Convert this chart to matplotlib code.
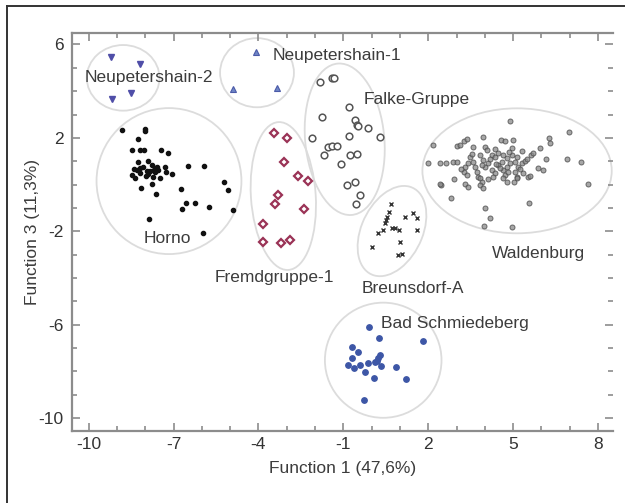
import matplotlib
matplotlib.use("Agg")
import matplotlib.pyplot as plt
from matplotlib.patches import Ellipse
from matplotlib.lines import Line2D
from matplotlib.ticker import MultipleLocator, FixedLocator

plt.rcParams['font.family'] = ['Liberation Sans', 'DejaVu Sans']

# ---------------- data ----------------
horno_x = [-8.81, -8.01, -8.01, -8.27, -8.46, -8.18, -8.03, -7.44, -7.18, -8.27, -7.89, -6.48, -5.92,
           -8.38, -8.30, -8.18, -8.07, -7.77, -7.65, -7.59, -7.54, -7.30, -7.27, -7.06, -8.48, -8.36,
           -8.18, -7.97, -7.89, -7.71, -7.48, -7.65, -7.83, -8.16, -7.75, -7.62, -6.75, -6.56, -6.71,
           -6.24, -5.74, -5.22, -5.06, -4.91, -7.86, -5.95, -7.70, -7.95]
horno_y = [2.34, 2.40, 2.30, 1.95, 1.49, 1.49, 1.49, 1.49, 1.37, 0.98, 1.02, 0.81, 0.80,
           0.66, 0.63, 0.70, 0.77, 0.84, 0.70, 0.77, 0.63, 0.77, 0.55, 0.45, 0.41, 0.27,
           0.48, 0.37, 0.44, 0.34, 0.27, 0.55, 0.58, -0.13, 0.01, -0.40, -0.19, -0.78, -1.05,
           -0.80, -0.95, 0.10, -0.23, -1.09, -1.49, -2.09, 0.62, 0.60]

waldenburg_x = [4.89, 6.99, 2.18, 3.01, 3.12, 3.28, 3.37, 3.95, 4.57, 5.01, 6.28, 6.30, 3.59, 4.01, 4.07,
                4.36, 4.95, 5.30, 5.95, 5.63, 5.71, 3.48, 3.83, 4.24, 4.36, 4.48, 4.65, 4.77, 4.95, 5.13,
                6.16, 6.89, 7.39, 2.00, 2.62, 2.89, 3.01, 3.30, 3.42, 3.59, 3.65, 3.95, 4.01, 4.12,
                4.48, 4.60, 4.77, 4.89, 5.07, 5.18, 5.30, 5.42, 5.89, 6.05, 3.28, 3.36, 3.71, 3.77,
                4.24, 4.36, 4.30, 4.65, 4.71, 4.83, 5.07, 5.13, 5.36, 2.92, 3.83, 3.89, 4.12, 4.65,
                4.77, 5.04, 5.13, 5.54, 5.60, 2.45, 3.30, 3.40, 3.83, 3.95, 7.64, 2.81, 5.56, 4.01,
                4.18, 3.98, 4.97, 2.42, 2.42, 4.20, 4.55, 4.40, 3.90, 5.25, 4.85, 3.55, 4.70, 5.50, 3.15]
waldenburg_y = [2.72, 2.24, 1.70, 1.65, 1.70, 1.88, 1.94, 2.03, 1.92, 1.92, 1.98, 1.79, 1.62, 1.62, 1.48,
                1.52, 1.58, 1.44, 1.58, 1.27, 1.34, 1.20, 1.27, 1.27, 1.20, 1.34, 1.27, 1.13, 1.27, 1.20,
                1.08, 1.08, 0.98, 0.91, 0.91, 0.98, 0.98, 0.77, 0.91, 0.98, 0.77, 1.05, 0.77, 0.91,
                0.84, 0.98, 0.77, 0.91, 0.98, 0.77, 0.91, 1.01, 0.70, 0.63, 0.55, 0.41, 0.55, 0.34,
                0.63, 0.48, 0.34, 0.63, 0.41, 0.55, 0.55, 0.34, 0.48, 0.24, 0.27, 0.12, 0.24, 0.30,
                0.10, 0.12, 0.27, 0.34, 0.38, -0.02, 0.01, -0.09, -0.02, -0.16, 0.01, -0.56, -0.80, -0.99,
                -1.44, -1.76, -1.80, 0.94, 0.03, 1.10, 0.70, 0.90, 0.85, 0.65, 1.40, 1.30, 1.85, 1.10, 0.65]

falke_x = [-1.82, -1.39, -1.32, -0.80, -1.74, -0.59, -0.53, -0.47, -0.12, 0.30, -0.80, -2.10,
           -1.55, -1.41, -1.23, -1.68, -0.76, -0.53, -1.08, -0.88, -0.59, -0.41, -0.55]
falke_y = [4.41, 4.55, 4.55, 3.34, 2.88, 2.77, 2.55, 2.51, 2.41, 2.03, 2.08, 2.01,
           1.62, 1.65, 1.65, 1.27, 1.27, 1.30, 0.87, -0.02, 0.10, -0.45, -0.84]

fremd_x = [-3.45, -3.00, -3.08, -2.61, -2.24, -3.30, -3.41, -2.39, -3.83, -3.85, -3.20, -2.88]
fremd_y = [2.22, 2.01, 0.95, 0.38, 0.17, -0.45, -0.83, -1.05, -1.69, -2.45, -2.51, -2.37]

breuns_x = [0.68, 0.63, 0.55, 0.51, 0.46, 1.18, 1.47, 1.61, 0.71, 0.83, 0.98, 0.41, 0.24, 1.59,
            1.00, 0.00, 0.94, 1.06]
breuns_y = [-0.83, -1.16, -1.40, -1.52, -1.66, -1.37, -1.23, -1.44, -1.87, -1.85, -1.94, -1.94,
            -2.09, -1.94, -2.45, -2.66, -3.02, -2.97]

neup2_x = [-9.21, -8.18, -9.18, -8.50]
neup2_y = [5.48, 5.15, 3.67, 3.94]

neup1_x = [-4.09, -4.89, -3.35]
neup1_y = [5.69, 4.09, 4.12]

bad_x = [-0.08, 0.25, 1.83, -0.70, -0.49, 0.30, 0.24, 0.18, -0.68, -0.84, -0.62, -0.41, -0.14,
         0.12, 0.32, -0.22, 0.86, 0.10, 1.22, -0.26]
bad_y = [-6.11, -6.58, -6.70, -6.97, -7.16, -7.30, -7.44, -7.54, -7.41, -7.73, -7.87, -7.73, -7.63,
         -7.58, -7.77, -8.01, -7.82, -8.27, -8.34, -9.23]

# group ellipses: center x, center y, width, height, angle
ell_names = ["Horno", "Neupetershain-2", "Neupetershain-1", "Fremdgruppe-1", "Falke-Gruppe",
             "Breunsdorf-A", "Waldenburg", "Bad Schmiedeberg"]
ell_cx = [-7.16, -8.78, -4.05, -3.12, -0.95, 0.72, 5.14, 0.41]
ell_cy = [0.15, 4.57, 4.79, -0.49, 1.94, -1.99, 0.59, -7.52]
ell_w = [5.12, 2.57, 2.61, 2.29, 2.80, 2.20, 6.69, 4.12]
ell_h = [6.25, 2.81, 2.96, 6.34, 6.50, 4.00, 5.35, 4.93]
ell_ang = [0, 0, 0, 3, 4, -18, 0, 0]

# group labels
lab_text = ["Neupetershain-2", "Neupetershain-1", "Falke-Gruppe", "Horno", "Fremdgruppe-1",
            "Breunsdorf-A", "Waldenburg", "Bad Schmiedeberg"]
lab_x = [-7.87, -1.24, 1.58, -7.23, -3.44, 1.46, 5.89, 2.93]
lab_y = [4.58, 5.51, 3.65, -2.30, -3.97, -4.44, -2.97, -5.94]

x_ticks = [-10, -7, -4, -1, 2, 5, 8]
y_ticks = [6, 2, -2, -6, -10]
x_label = "Function 1 (47,6%)"
y_label = "Function 3 (11,3%)"

# ---------------- figure ----------------
W, H = 625, 503
fig = plt.figure(figsize=(W / 100, H / 100), dpi=100)
ax = fig.add_axes([72 / W, 1 - 431 / H, (613 - 72) / W, (431 - 33) / H])

for cx, cy, w, h, a in zip(ell_cx, ell_cy, ell_w, ell_h, ell_ang):
    ax.add_patch(Ellipse((cx, cy), w, h, angle=a, fill=False, edgecolor='#dcdcdc', lw=1.3, zorder=1))

ax.plot(waldenburg_x, waldenburg_y, 'o', ms=3.6, mfc='#8a8a8a', mec='#454545', mew=0.7, alpha=0.75, zorder=3)
ax.plot(horno_x, horno_y, 'o', ms=3.0, mfc='#111111', mec='#111111', zorder=3)
ax.plot(falke_x, falke_y, 'o', ms=4.8, mfc='white', mec='#555555', mew=1.1, zorder=3)
ax.plot(fremd_x, fremd_y, 'D', ms=4.5, mfc='white', mec='#9a3356', mew=1.6, zorder=3)
ax.plot(breuns_x, breuns_y, 'x', ms=3.0, mec='#333333', mew=1.0, zorder=3)
ax.plot(neup2_x, neup2_y, 'v', ms=4.3, mfc='#4f4ea8', mec='#4f4ea8', zorder=3)
ax.plot(neup1_x, neup1_y, '^', ms=4.3, mfc='#6f86c6', mec='#4b5aa8', mew=0.8, zorder=3)
ax.plot(bad_x, bad_y, 'o', ms=3.9, mfc='#3d56a6', mec='#3d56a6', zorder=3)

for t, x, y in zip(lab_text, lab_x, lab_y):
    ax.text(x, y, t, ha='center', va='center', fontsize=12.5, color='#3c3c3c', zorder=4)

ax.set_xlim(-10.587, 8.53)
ax.set_ylim(-10.55, 6.49)
ax.xaxis.set_major_locator(FixedLocator(x_ticks))
ax.yaxis.set_major_locator(FixedLocator(y_ticks))
ax.xaxis.set_minor_locator(MultipleLocator(1))
ax.yaxis.set_minor_locator(MultipleLocator(1))
ax.set_xticklabels([str(v) for v in x_ticks])
ax.set_yticklabels([str(v) for v in y_ticks])

gray = '#8c8c8c'
for side in ['left', 'bottom', 'top']:
    ax.spines[side].set_color(gray)
    ax.spines[side].set_linewidth(1.6)
ax.spines['right'].set_visible(False)
ax.tick_params(which='both', direction='in', top=True, right=True, color=gray, width=1.2,
               labelsize=12.5, labelcolor='#333333')
ax.tick_params(which='major', length=6)
ax.tick_params(which='minor', length=3.5)
ax.tick_params(axis='x', pad=4)
ax.tick_params(axis='y', pad=6)

ax.set_xlabel(x_label, fontsize=12.5, color='#3c3c3c', labelpad=7)
ax.set_ylabel(y_label, fontsize=12.5, color='#3c3c3c', labelpad=-1)

# outer frame (left and top edges)
fig.add_artist(Line2D([6.5 / W, 6.5 / W], [0, 1 - 5.5 / H], transform=fig.transFigure, color='#333333', lw=1.4))
fig.add_artist(Line2D([6.5 / W, 1], [1 - 5.5 / H, 1 - 5.5 / H], transform=fig.transFigure, color='#333333', lw=1.4))

fig.savefig("out.png", dpi=100)
